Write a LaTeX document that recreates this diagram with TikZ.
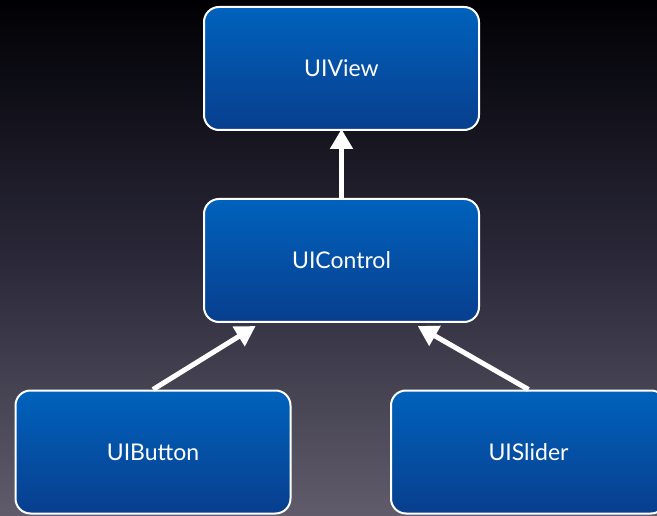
\documentclass[tikz,border=0pt]{standalone}
\usepackage{fontspec}
\setmainfont{Lato}
\usetikzlibrary{arrows.meta,calc}
\definecolor{bgtop}{RGB}{0,0,4}
\definecolor{bgmid}{RGB}{42,40,56}
\definecolor{bgbot}{RGB}{96,92,108}
\definecolor{boxtop}{RGB}{0,98,188}
\definecolor{boxbot}{RGB}{8,62,142}
\tikzset{
  classbox/.style={rounded corners=15pt, draw=white, line width=2pt,
    top color=boxtop, bottom color=boxbot, minimum width=275pt,
    minimum height=123pt, text=white, font=\fontsize{23}{26}\selectfont, inner sep=0pt},
  inherit/.style={draw=white, line width=5pt,
    -{Triangle[length=20pt,width=22pt]}}
}
\begin{document}
\begin{tikzpicture}[x=1pt,y=-1pt]
\useasboundingbox (0,0) rectangle (657,516);
\shade[top color=bgtop, bottom color=bgbot, middle color=bgmid] (0,0) rectangle (657,516);
\node[classbox] (view) at (341.5,68.5) {UIView};
\node[classbox] (ctrl) at (341.5,260.5) {UIControl};
\node[classbox] (button) at (153,452) {UIButton};
\node[classbox] (slider) at (528.5,452) {UISlider};
\coordinate (ctrlL) at ($(ctrl.south west)!0.19!(ctrl.south east)+(0,-3pt)$);
\coordinate (ctrlR) at ($(ctrl.south west)!0.775!(ctrl.south east)+(0,-3pt)$);
\draw[inherit, shorten >=-2pt] (ctrl.north) -- (view.south);
\draw[inherit] (button.north) -- (ctrlL);
\draw[inherit] (slider.north) -- (ctrlR);
\end{tikzpicture}
\end{document}
